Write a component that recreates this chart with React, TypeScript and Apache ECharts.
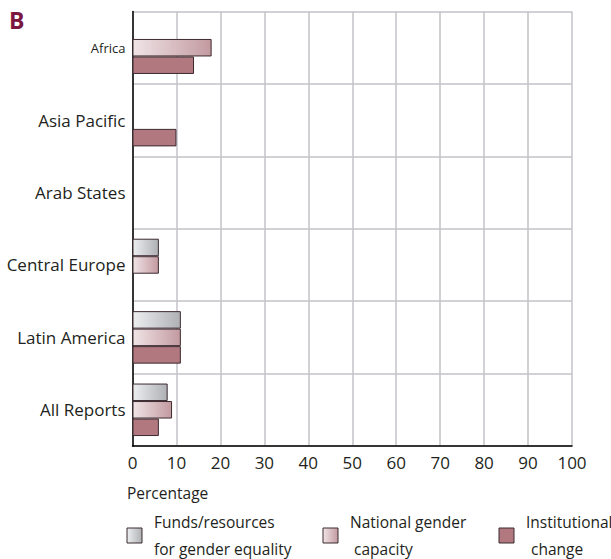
import React, { useEffect, useRef } from "react";
import * as echarts from "echarts";

const categories = ["Africa", "Asia Pacific", "Arab States", "Central Europe", "Latin America", "All Reports"];
const seriesNames = ["Funds/resources for gender equality", "National gender capacity", "Institutional change"];
const funds = [null, null, null, 6, 11, 8];
const national = [18, null, null, 6, 11, 9];
const institutional = [14, 10, null, null, 11, 6];
const xTicks = [0, 10, 20, 30, 40, 50, 60, 70, 80, 90, 100];

const FONT = "'Open Sans'";
const TXT = "#231f20";
const EDGE = "#3b2a2f";

const fundsFill = new echarts.graphic.LinearGradient(0, 0, 1, 0, [
  { offset: 0, color: "#eceef0" },
  { offset: 1, color: "#aeb0b3" },
]);
const nationalFill = new echarts.graphic.LinearGradient(0, 0, 1, 0, [
  { offset: 0, color: "#f0e4e6" },
  { offset: 1, color: "#c29aa0" },
]);
const instFill = "#b27880";

export default function App() {
  const ref = useRef<HTMLDivElement>(null);
  useEffect(() => {
    const chart = echarts.init(ref.current!, null, { renderer: "svg" });
    const mk = (name: string, data: any[], color: any) => ({
      name,
      type: "bar",
      data,
      barWidth: 17.5,
      barGap: "0%",
      itemStyle: { color, borderColor: EDGE, borderWidth: 1 },
    });
    const legendItem = (x: number, fill: any, l1: string, l2: string, l2dx: number) => [
      { type: "rect", shape: { x, y: 528, width: 15, height: 15 }, style: { fill, stroke: EDGE, lineWidth: 1 } },
      { type: "text", x: x + 27, y: 522, style: { text: l1, font: `15.5px ${FONT}`, fill: TXT, verticalAlign: "middle" } },
      { type: "text", x: x + 27 + l2dx, y: 549, style: { text: l2, font: `15.5px ${FONT}`, fill: TXT, verticalAlign: "middle" } },
    ];
    chart.setOption({
      animation: false,
      grid: { left: 132.5, right: 39, top: 11.5, bottom: 113, containLabel: false },
      xAxis: {
        type: "value",
        min: 0,
        max: 100,
        interval: 10,
        axisLine: { show: true, lineStyle: { color: "#000", width: 1.5 } },
        axisTick: { show: false },
        axisLabel: {
          fontFamily: FONT,
          fontSize: 17,
          color: TXT,
          margin: 8,
          formatter: (v: number) => (xTicks.includes(v) ? String(v) : ""),
        },
        splitLine: { show: true, lineStyle: { color: "#c3c3c8", width: 1.5 } },
      },
      yAxis: {
        type: "category",
        data: categories,
        inverse: true,
        axisLine: { show: true, lineStyle: { color: "#000", width: 1.5 } },
        axisTick: { show: false },
        axisLabel: {
          fontFamily: FONT,
          fontSize: 17,
          color: TXT,
          margin: 7,
          formatter: (v: string) => (v === "Africa" ? `{s|${v}}` : v),
          rich: { s: { fontFamily: FONT, fontSize: 13, color: TXT } },
        },
        splitLine: { show: true, lineStyle: { color: "#c3c3c8", width: 1.5 } },
      },
      series: [mk(seriesNames[0], funds, fundsFill), mk(seriesNames[1], national, nationalFill), mk(seriesNames[2], institutional, instFill)],
      graphic: [
        { type: "text", x: 9, y: 8, style: { text: "B", font: `bold 23px ${FONT}`, fill: "#7b1640" } },
        { type: "text", x: 127, y: 493, style: { text: "Percentage", font: `15.5px ${FONT}`, fill: TXT, verticalAlign: "middle" } },
        ...legendItem(127, fundsFill, "Funds/resources", "for gender equality", 0),
        ...legendItem(323, nationalFill, "National gender", "capacity", 4),
        ...legendItem(499, instFill, "Institutional", "change", 5),
      ],
    });
    return () => chart.dispose();
  }, []);
  return <div ref={ref} style={{ width: 611, height: 559, position: "absolute", left: 0, top: 0 }} />;
}
